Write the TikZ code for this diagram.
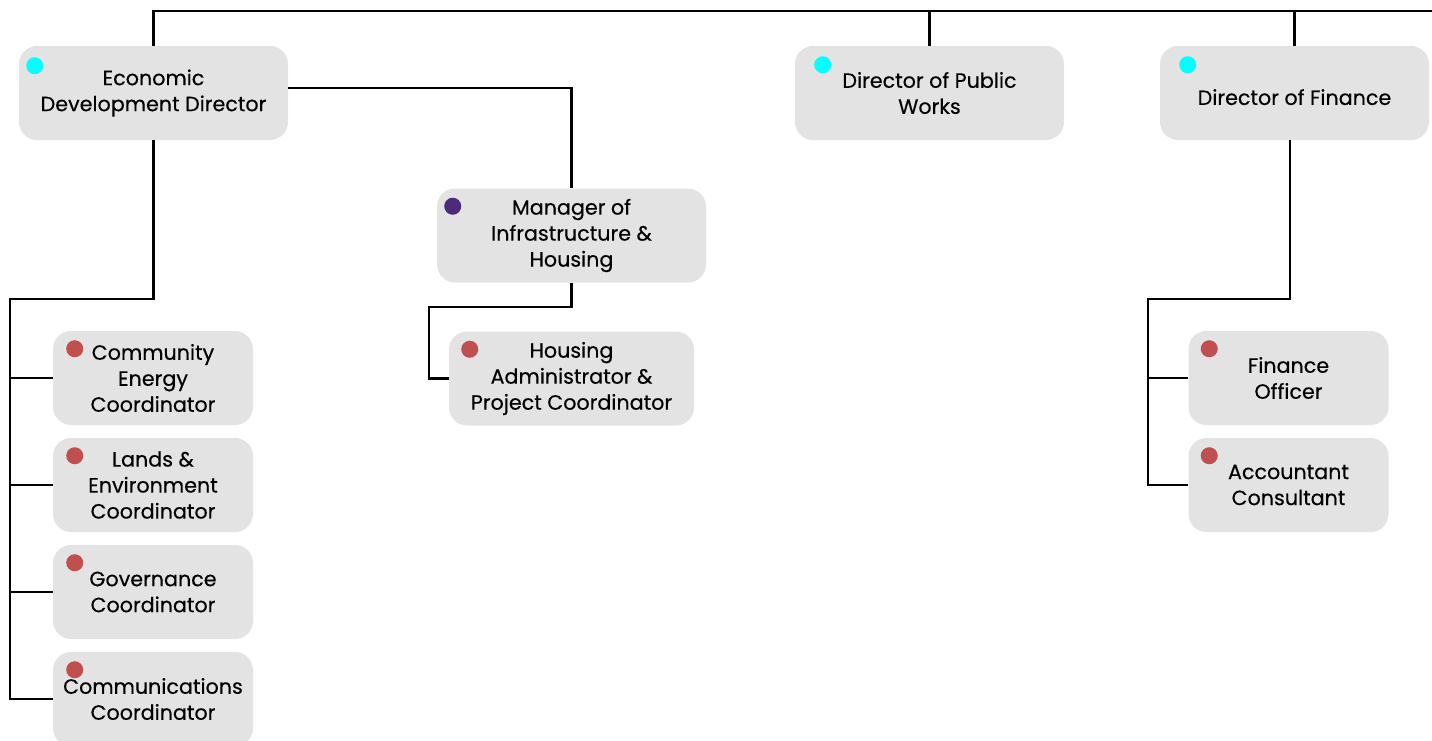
\documentclass[tikz,border=0pt]{standalone}
\usepackage{fontspec}
\setmainfont{Poppins}[FakeBold=0.3]
\usetikzlibrary{calc}
\definecolor{boxgray}{HTML}{E3E3E3}
\definecolor{dotcyan}{HTML}{00FFFF}
\definecolor{dotpurple}{HTML}{4B2C7A}
\definecolor{dotred}{HTML}{C0504F}
\tikzset{
  rolebox/.style={fill=boxgray, rounded corners=13.5pt, inner sep=0pt, align=center,
    font=\fontsize{15.5}{19.5}\selectfont, minimum width=201.75pt, minimum height=70.5pt,
    execute at begin node={\rule{0pt}{18pt}}},
  smallbox/.style={rolebox, minimum width=150pt},
  link/.style={line width=1.8pt},
}
\newcommand{\roledot}[3]{\fill[#1] ($(#2.north west)+#3$) circle (6.4pt);}
\begin{document}
\begin{tikzpicture}[x=0.75pt, y=-0.75pt]
    \useasboundingbox (0,0) rectangle (1432,740);

    % Directors
    \node[rolebox] (edd) at (153.5,93) {Economic\\Development Director};
    \node[rolebox] (pw) at (929.5,93) {Director of Public\\Works};
    \node[rolebox, execute at begin node={}] (fin) at (1294.5,93) {Director of Finance};

    % Managers
    \node[rolebox] (mgr) at (571.5,235.5) {Manager of\\Infrastructure \&\\Housing};
    \node[rolebox, minimum width=183.75pt] (hsg) at (571.5,378.5) {Housing\\Administrator \&\\Project Coordinator};

    % Coordinators
    \node[smallbox] (ce) at (153,378) {Community\\Energy\\Coordinator};
    \node[smallbox] (le) at (153,485) {Lands \&\\Environment\\Coordinator};
    \node[smallbox] (gc) at (153,592) {Governance\\Coordinator};
    \node[smallbox] (cc) at (153,699) {Communications\\Coordinator};
    \node[smallbox] (fo) at (1288.5,378) {Finance\\Officer};
    \node[smallbox] (ac) at (1288.5,485) {Accountant\\Consultant};

    % Dots
    \roledot{dotcyan}{edd}{(16,20)}
    \roledot{dotcyan}{pw}{(28,19)}
    \roledot{dotcyan}{fin}{(28,19)}
    \roledot{dotpurple}{mgr}{(16,18)}
    \roledot{dotred}{hsg}{(21,18)}
    \foreach \n in {ce,le,gc,cc} {\roledot{dotred}{\n}{(22,18)}}
    \foreach \n in {fo,ac} {\roledot{dotred}{\n}{(21,18)}}

    % Connectors
    \coordinate (busR) at (1432,11);
    \coordinate (eddbend) at (10,299);
    \coordinate (mgrbend) at (429,307);
    \coordinate (finbend) at (1148,299);

    \draw[link] (edd.north) |- (busR);
    \draw[link] (pw.north) -- (pw.north |- busR);
    \draw[link] (fin.north) -- (fin.north |- busR);
    \draw[link] ($(edd.east)+(0,-5)$) -| (mgr.north);
    \draw[link] (mgr.south) |- (mgrbend) |- (hsg.west);
    \draw[link] (edd.south) |- (eddbend) |- (cc.west);
    \foreach \n in {ce,le,gc} {\draw[link] (eddbend |- \n.west) -- (\n.west);}
    \draw[link] (fin.south -| 1290,0) |- (finbend) |- (ac.west);
    \draw[link] (finbend |- fo.west) -- (fo.west);
\end{tikzpicture}
\end{document}
